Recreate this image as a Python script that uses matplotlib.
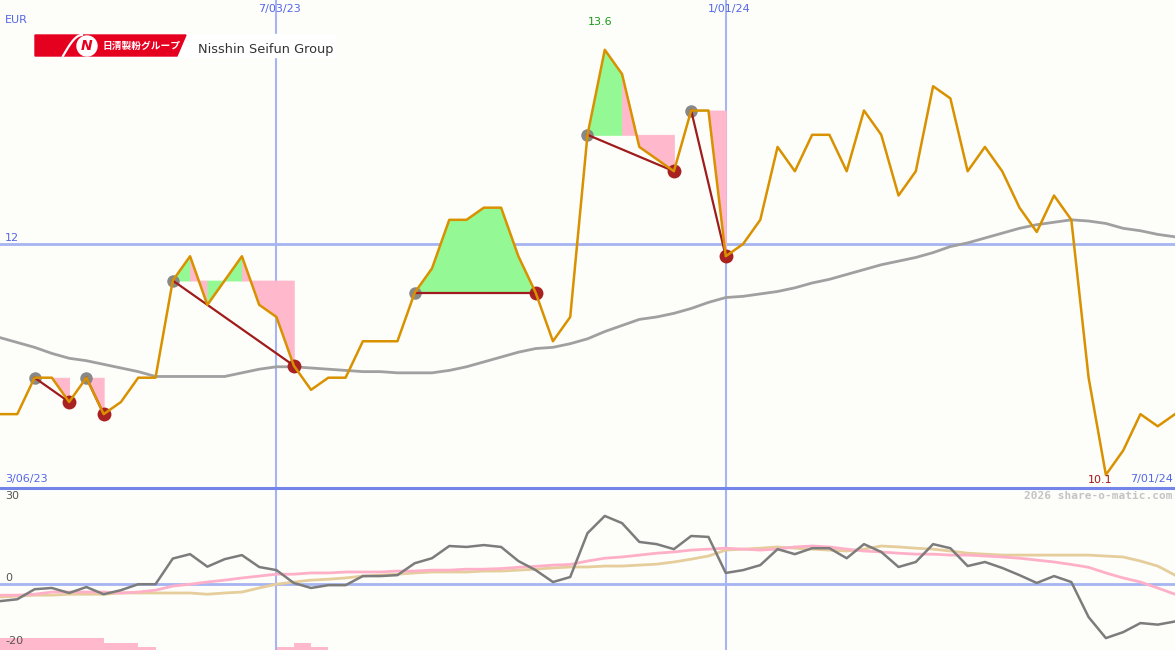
import numpy as np
import matplotlib.pyplot as plt
from matplotlib.patches import Polygon, Ellipse, Rectangle
from matplotlib.lines import Line2D

# weekly closes (EUR), 3/06/23 .. 7/01/24
prices = [10.6, 10.6, 10.9, 10.9, 10.7, 10.9, 10.6, 10.7, 10.9, 10.9,
          11.7, 11.9, 11.5, 11.7, 11.9, 11.5, 11.4, 11.0, 10.8, 10.9,
          10.9, 11.2, 11.2, 11.2, 11.6, 11.8, 12.2, 12.2, 12.3, 12.3,
          11.9, 11.6, 11.2, 11.4, 12.9, 13.6, 13.4, 12.8, 12.7, 12.6,
          13.1, 13.1, 11.9, 12.0, 12.2, 12.8, 12.6, 12.9, 12.9, 12.6,
          13.1, 12.9, 12.4, 12.6, 13.3, 13.2, 12.6, 12.8, 12.6, 12.3,
          12.1, 12.4, 12.2, 10.9, 10.1, 10.3, 10.6, 10.5, 10.6]

# long moving average
ma = [11.23, 11.19, 11.15, 11.10, 11.06, 11.04, 11.01, 10.98, 10.95, 10.91,
      10.91, 10.91, 10.91, 10.91, 10.94, 10.97, 10.99, 10.99, 10.98, 10.97,
      10.96, 10.95, 10.95, 10.94, 10.94, 10.94, 10.96, 10.99, 11.03, 11.07,
      11.11, 11.14, 11.15, 11.18, 11.22, 11.28, 11.33, 11.38, 11.40, 11.43,
      11.47, 11.52, 11.56, 11.57, 11.59, 11.61, 11.64, 11.68, 11.71, 11.75,
      11.79, 11.83, 11.86, 11.89, 11.93, 11.98, 12.01, 12.05, 12.09, 12.13,
      12.16, 12.18, 12.20, 12.19, 12.17, 12.13, 12.11, 12.08, 12.06]

# swing patterns: start (peak) index -> end (trough) index
swing_start = [2, 5, 10, 24, 34, 40]
swing_end = [4, 6, 17, 31, 39, 42]

# lower panel indicator
osc = [-5.6, -5.0, -1.8, -1.4, -3.0, -1.1, -3.4, -2.1, -0.2, -0.2,
       8.0, 9.4, 5.4, 7.8, 9.1, 5.3, 4.3, 0.2, -1.4, -0.5,
       -0.5, 2.4, 2.4, 2.7, 6.5, 8.1, 12.0, 11.7, 12.3, 11.7,
       7.2, 4.3, 0.5, 2.1, 16.1, 21.6, 19.3, 13.3, 12.6, 11.0,
       15.2, 14.9, 3.4, 4.3, 5.9, 11.0, 9.4, 11.3, 11.3, 8.1,
       12.6, 10.1, 5.3, 6.9, 12.6, 11.3, 5.6, 6.9, 5.0, 2.7,
       0.2, 2.4, 0.5, -10.7, -17.4, -15.5, -12.6, -13.1, -12.1]
osc_pink = [-3.7, -3.7, -3.4, -2.7, -2.7, -2.7, -2.7, -3.0, -2.7, -2.1,
            -0.8, -0.2, 0.5, 1.1, 1.8, 2.4, 3.0, 3.0, 3.4, 3.4,
            3.7, 3.7, 3.7, 4.0, 4.0, 4.3, 4.3, 4.6, 4.6, 4.8,
            5.2, 5.5, 5.9, 6.1, 7.2, 8.1, 8.5, 9.1, 9.7, 10.1,
            10.7, 11.0, 11.3, 11.0, 10.7, 11.0, 11.7, 12.0, 11.7, 11.0,
            10.4, 10.1, 9.7, 9.4, 9.4, 9.1, 9.1, 8.8, 8.5, 8.1,
            7.5, 6.9, 6.1, 5.2, 3.4, 1.8, 0.5, -1.4, -3.4]
osc_tan = [-4.3, -4.0, -3.7, -3.7, -3.4, -3.4, -3.4, -3.0, -3.0, -3.0,
           -3.0, -3.0, -3.4, -3.0, -2.7, -1.4, -0.2, 0.5, 1.1, 1.4,
           1.8, 2.4, 2.7, 3.0, 3.4, 3.7, 3.7, 3.7, 4.0, 4.0,
           4.3, 4.6, 5.0, 5.3, 5.3, 5.6, 5.6, 5.9, 6.2, 6.9,
           7.8, 8.8, 10.7, 11.0, 11.3, 11.7, 11.3, 11.0, 10.7, 10.4,
           11.0, 12.0, 11.7, 11.3, 11.0, 10.4, 9.7, 9.4, 9.1, 9.1,
           9.1, 9.1, 9.1, 9.1, 8.8, 8.5, 7.2, 5.6, 2.7]
bar_idx = [0, 1, 2, 3, 4, 5, 6, 7, 8, 16, 17, 18]
bar_top = [-17.4, -17.4, -17.4, -17.4, -17.4, -17.4, -19.0, -19.0, -20.3, -20.3, -19.0, -20.3]

vlines = [16, 42]
vline_labels = ["7/03/23", "1/01/24"]

W, H = 1175, 650
BG = '#fdfefa'
BLUE_LT = '#a6b4f2'
BLUE_TXT = '#5566e6'
ORANGE = '#d99100'

fig = plt.figure(figsize=(W / 100, H / 100), dpi=100, facecolor=BG)


def px(x, y):
    return x / W, 1 - y / H


x = np.arange(len(prices))

# ---- main price panel
ax = fig.add_axes([0, (H - 487) / H, 1, 487 / H])
ax.set_facecolor(BG)
ax.set_xlim(0, len(prices) - 1)
ax.set_ylim(10.0, 14.01)
ax.axis('off')

ax.axhline(12, color=BLUE_LT, lw=2, zorder=1)
for v in vlines:
    ax.axvline(v, color=BLUE_LT, lw=1.5, zorder=1)

for s, e in zip(swing_start, swing_end):
    level = prices[s]
    for k in range(s, e):
        col = '#94f994' if prices[k + 1] >= level - 1e-9 else '#ffb8cc'
        ax.fill_between([k, k + 1], [level, level], [prices[k], prices[k + 1]],
                        facecolor=col, edgecolor=col, lw=0.6, zorder=2)

ax.plot(x, ma, color='#a0a0a0', lw=2, zorder=3)

for s, e in zip(swing_start, swing_end):
    ax.plot(s, prices[s], 'o', ms=9, color='#888888', mec='none', zorder=4)
    ax.plot(e, prices[e], 'o', ms=10, color='#a82222', mec='none', zorder=4)
    ax.plot([s, e], [prices[s], prices[e]], color='#a01c1c', lw=1.6, zorder=5)

ax.plot(x, prices, color=ORANGE, lw=1.8, zorder=6)

# ---- lower indicator panel
ax2 = fig.add_axes([0, 0, 1, 161 / H])
ax2.set_facecolor(BG)
ax2.set_xlim(0, len(prices) - 1)
ax2.set_ylim(-21.2, 30.2)
ax2.axis('off')
ax2.bar(bar_idx, np.array(bar_top) + 21.2, bottom=-21.2, width=1, align='edge',
        color='#ffb8cc', lw=0, zorder=1)
ax2.axhline(0, color=BLUE_LT, lw=2, zorder=1)
for v in vlines:
    ax2.axvline(v, color=BLUE_LT, lw=1.5, zorder=1)
ax2.plot(x, osc_tan, color='#e6cd9c', lw=2, zorder=2)
ax2.plot(x, osc_pink, color='#ffb0c8', lw=2, zorder=3)
ax2.plot(x, osc, color='#7c7c7c', lw=1.8, zorder=4)

# separator
fig.add_artist(Line2D([0, 1], [1 - 487.5 / H] * 2, color='#7485ea', lw=2.2))

# ---- logo
fig.add_artist(Rectangle(px(35, 57), 300 / W, 23 / H, color='white', zorder=10))
fig.add_artist(Polygon([px(35, 35), px(186, 35), px(177, 56), px(35, 56)],
                       closed=True, color='#e60020', zorder=11))
t = np.linspace(0, 1, 20)
cx = 63 + 19 * t
cy = 56 - 21 * np.sin(t * np.pi / 2)
fig.add_artist(Line2D(cx / W, 1 - cy / H, color='white', lw=1.6, zorder=12))
fig.add_artist(Ellipse(px(87, 46), 20 / W, 20 / H, color='white', zorder=12,
                       transform=fig.transFigure))
fig.text(*px(87, 46.5), "N", color='#e60020', fontsize=10, fontweight='bold',
         style='italic', ha='center', va='center', zorder=13)
fig.text(*px(142, 46), "日清製粉グループ", color='white', fontsize=7.0,
         fontweight='bold', family=['Noto Sans CJK JP', 'DejaVu Sans'],
         ha='center', va='center', zorder=13)
fig.text(*px(198, 50), "Nisshin Seifun Group", color='#333333', fontsize=9.3,
         ha='left', va='center', zorder=13)

# ---- labels
lab = dict(fontsize=8, family='DejaVu Sans')
fig.text(*px(5, 20), "EUR", color=BLUE_TXT, ha='left', va='center', **lab)
for v, s in zip(vlines, vline_labels):
    fig.text(*px(v * W / (len(prices) - 1) + 3, 9), s, color=BLUE_TXT,
             ha='center', va='center', **lab)
fig.text(*px(5, 238), "12", color=BLUE_TXT, ha='left', va='center', **lab)
fig.text(*px(600, 22), "13.6", color='#1a9a1a', ha='center', va='center', **lab)
fig.text(*px(1100, 480), "10.1", color='#a01818', ha='center', va='center', **lab)
fig.text(*px(5, 479), "3/06/23", color=BLUE_TXT, ha='left', va='center', **lab)
fig.text(*px(1173, 479), "7/01/24", color=BLUE_TXT, ha='right', va='center', **lab)
fig.text(*px(1173, 496), "2026 share-o-matic.com", color='#c4c4c4',
         family='DejaVu Sans Mono', fontweight='bold', fontsize=8,
         ha='right', va='center')
fig.text(*px(5, 496), "30", color='#555555', ha='left', va='center', **lab)
fig.text(*px(5, 578), "0", color='#555555', ha='left', va='center', **lab)
fig.text(*px(5, 641), "-20", color='#555555', ha='left', va='center', **lab)

fig.savefig('out.png', dpi=100, facecolor=BG)
